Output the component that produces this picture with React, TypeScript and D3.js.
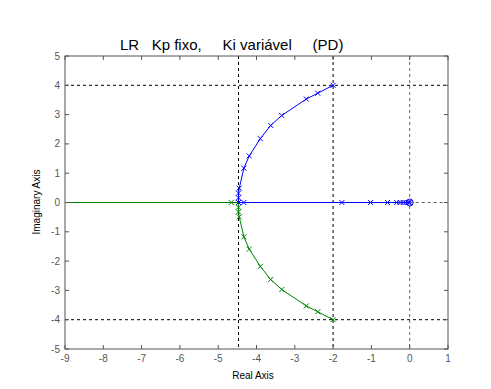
import React from "react";
import * as d3 from "d3";

const xTicks = [-9, -8, -7, -6, -5, -4, -3, -2, -1, 0, 1];
const yTicks = [5, 4, 3, 2, 1, 0, -1, -2, -3, -4, -5];

const blueRe = [-2, -2.4, -2.7, -3.34, -3.63, -3.9, -4.19, -4.33, -4.45, -4.47, -4.47, -4.47, -4.33, -1.77, -1.02, -0.58, -0.34, -0.25, -0.17, -0.1, -0.04, 0];
const blueIm = [4, 3.73, 3.53, 2.97, 2.63, 2.18, 1.59, 1.17, 0.49, 0.32, 0.16, 0, 0, 0, 0, 0, 0, 0, 0, 0, 0, 0];

const greenRe = [-2, -2.4, -2.7, -3.34, -3.63, -3.9, -4.19, -4.33, -4.45, -4.47, -4.47, -4.47, -4.66, -20];
const greenIm = [-4, -3.73, -3.53, -2.97, -2.63, -2.18, -1.59, -1.17, -0.49, -0.32, -0.16, 0, 0, 0];
const greenMarkerCount = 13;

const zerosRe = [0];
const zerosIm = [0];

const guideX = [-4.47, -2];
const guideY = [4, -4];

const W = 491, H = 389;
const L = 65, R = 448, T = 56, B = 349;

export default function App() {
  const x = d3.scaleLinear().domain([-9, 1]).range([L, R]);
  const y = d3.scaleLinear().domain([-5, 5]).range([B, T]);
  const mk = (re: number[], im: number[]) =>
    d3.line<[number, number]>().x((d) => x(d[0])).y((d) => y(d[1]))(re.map((r, i) => [r, im[i]] as [number, number]));
  const axisColor = "#555";
  const font = "Liberation Sans, Arial, sans-serif";
  const s = 2.5;
  const cross = (cx: number, cy: number, color: string, key: string) => (
    <path key={key} d={`M${cx - s},${cy - s}L${cx + s},${cy + s}M${cx - s},${cy + s}L${cx + s},${cy - s}`} stroke={color} strokeWidth={1} fill="none" />
  );
  return (
    <svg width={W} height={H} style={{ position: "absolute", left: 0, top: 0, background: "#fff" }}>
      <defs>
        <clipPath id="plot">
          <rect x={L} y={T} width={R - L} height={B - T} />
        </clipPath>
      </defs>
      <rect x={0} y={0} width={W} height={H} fill="#fff" />
      <g clipPath="url(#plot)">
        <line x1={x(0)} x2={x(0)} y1={T} y2={B} stroke="#666" strokeDasharray="3,3" />
        <line x1={x(0)} x2={R} y1={y(0)} y2={y(0)} stroke="#666" strokeDasharray="3,3" />
        {guideX.map((v) => (
          <line key={"gx" + v} x1={x(v)} x2={x(v)} y1={T} y2={B} stroke="#000" strokeDasharray="3,3" />
        ))}
        {guideY.map((v) => (
          <line key={"gy" + v} x1={L} x2={R} y1={y(v)} y2={y(v)} stroke="#000" strokeDasharray="3,3" />
        ))}
        <path d={mk(greenRe, greenIm) || ""} stroke="#008000" fill="none" strokeWidth={1} />
        {greenRe.slice(0, greenMarkerCount).map((r, i) => cross(x(r), y(greenIm[i]), "#008000", "g" + i))}
        <path d={mk(blueRe, blueIm) || ""} stroke="#0000ff" fill="none" strokeWidth={1} />
        {blueRe.map((r, i) => cross(x(r), y(blueIm[i]), "#0000ff", "b" + i))}
        {zerosRe.map((r, i) => (
          <circle key={"z" + i} cx={x(r)} cy={y(zerosIm[i])} r={3.5} stroke="#0000ff" fill="none" />
        ))}
      </g>
      <rect x={L} y={T} width={R - L} height={B - T} fill="none" stroke={axisColor} strokeWidth={1} />
      {xTicks.map((t) => (
        <g key={"xt" + t}>
          <line x1={x(t)} x2={x(t)} y1={B} y2={B - 4} stroke={axisColor} />
          <line x1={x(t)} x2={x(t)} y1={T} y2={T + 4} stroke={axisColor} />
          <text x={x(t)} y={362} textAnchor="middle" fontFamily={font} fontSize={10} fill="#555">{t}</text>
        </g>
      ))}
      {yTicks.map((t) => (
        <g key={"yt" + t}>
          <line x1={L} x2={L + 4} y1={y(t)} y2={y(t)} stroke={axisColor} />
          <line x1={R} x2={R - 4} y1={y(t)} y2={y(t)} stroke={axisColor} />
          <text x={60} y={y(t) + 3.5} textAnchor="end" fontFamily={font} fontSize={10} fill="#555">{t}</text>
        </g>
      ))}
      <text x={120} y={50} fontFamily={font} fontSize={15} fill="#000" style={{ whiteSpace: "pre" }} xmlSpace="preserve">{"LR   Kp fixo,     Ki variável     (PD)"}</text>
      <text x={253} y={379} textAnchor="middle" fontFamily={font} fontSize={10} fill="#000">Real Axis</text>
      <text transform={`translate(40,202) rotate(-90)`} textAnchor="middle" fontFamily={font} fontSize={10} fill="#000">Imaginary Axis</text>
    </svg>
  );
}
